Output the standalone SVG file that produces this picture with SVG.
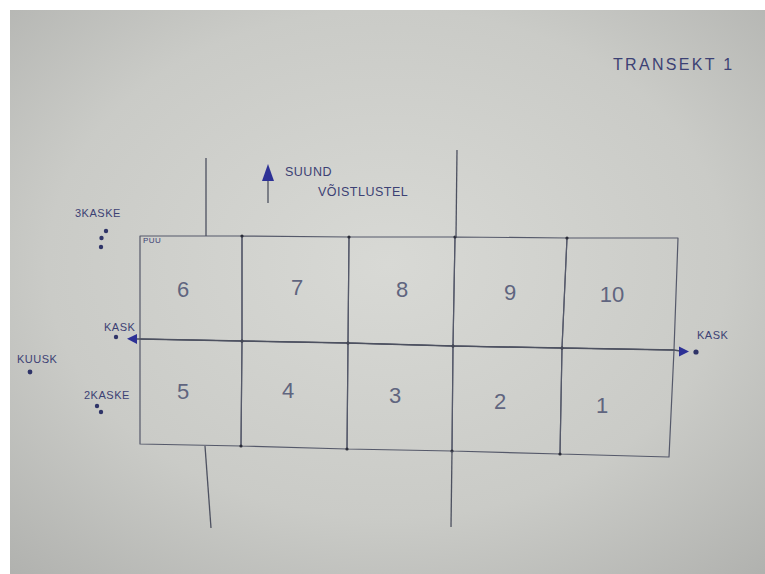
<svg xmlns="http://www.w3.org/2000/svg" width="765" height="574" viewBox="0 0 765 574">
<defs>
<radialGradient id="paper" cx="0.5" cy="0.45" r="0.75">
<stop offset="0" stop-color="#d8d9d5"/>
<stop offset="0.6" stop-color="#cacbc7"/>
<stop offset="1" stop-color="#b0b1ae"/>
</radialGradient>
</defs>
<style>
.cell{fill:none;stroke:#55596a;stroke-width:1.2;stroke-linejoin:round}
.num{font-family:"Liberation Sans",Arial,sans-serif;font-size:22px;fill:#60657f;text-anchor:middle;dominant-baseline:central}
.lbl{font-family:"Liberation Sans",Arial,sans-serif;fill:#3c4174;letter-spacing:0.5px}
.ttl{font-family:"Liberation Sans",Arial,sans-serif;fill:#3c4174;letter-spacing:2.3px;font-size:16px}
.ln{stroke:#4d5160;stroke-width:1.3;fill:none}
.dot{fill:#2f3468}
.vtx{fill:#2a2c38}
.ahead{fill:#2d3196}
</style>
<rect x="0" y="0" width="765" height="574" fill="#ffffff"/>
<rect x="10" y="10" width="755" height="564" fill="url(#paper)"/>

<g id="title"><text class="ttl" x="613" y="70">TRANSEKT 1</text></g>

<g id="direction-label">
<text class="lbl" x="285" y="176" font-size="12.5">SUUND</text>
<text class="lbl" x="318" y="196" font-size="12.5">VÕISTLUSTEL</text>
</g>

<g id="cell-6"><polygon class="cell" points="140,236 242,236 242,341 140,339"/><text class="num" x="183" y="289">6</text></g>
<g id="cell-7"><polygon class="cell" points="242,236 349,237 348,343 242,341"/><text class="num" x="297" y="287">7</text></g>
<g id="cell-8"><polygon class="cell" points="349,237 455,237 453,346 348,343"/><text class="num" x="402" y="289">8</text></g>
<g id="cell-9"><polygon class="cell" points="455,237 567,238 562,348 453,346"/><text class="num" x="510" y="292">9</text></g>
<g id="cell-10"><polygon class="cell" points="567,238 678,238 674,350 562,348"/><text class="num" x="612" y="294">10</text></g>
<g id="cell-5"><polygon class="cell" points="140,339 242,341 241,446 140,444"/><text class="num" x="183" y="391">5</text></g>
<g id="cell-4"><polygon class="cell" points="242,341 348,343 347,449 241,446"/><text class="num" x="288" y="390">4</text></g>
<g id="cell-3"><polygon class="cell" points="348,343 453,346 452,451 347,449"/><text class="num" x="395" y="395">3</text></g>
<g id="cell-2"><polygon class="cell" points="453,346 562,348 560,454 452,451"/><text class="num" x="500" y="401">2</text></g>
<g id="cell-1"><polygon class="cell" points="562,348 674,350 669,457 560,454"/><text class="num" x="602" y="405">1</text></g>

<g id="vertices">
<circle class="vtx" cx="242" cy="236" r="1.6"/><circle class="vtx" cx="349" cy="237" r="1.6"/><circle class="vtx" cx="455" cy="237" r="1.6"/><circle class="vtx" cx="567" cy="238" r="1.6"/>
<circle class="vtx" cx="242" cy="341" r="1.6"/><circle class="vtx" cx="348" cy="343" r="1.6"/><circle class="vtx" cx="453" cy="346" r="1.6"/><circle class="vtx" cx="562" cy="348" r="1.6"/>
<circle class="vtx" cx="241" cy="446" r="1.6"/><circle class="vtx" cx="347" cy="449" r="1.6"/><circle class="vtx" cx="452" cy="451" r="1.6"/><circle class="vtx" cx="560" cy="454" r="1.6"/>
</g>

<g id="puu"><text class="lbl" x="143" y="243" font-size="8">PUU</text></g>

<g id="kaske3">
<text class="lbl" x="75" y="217" font-size="11">3KASKE</text>
<circle class="dot" cx="106" cy="231" r="2.2"/><circle class="dot" cx="101.5" cy="238" r="2.2"/><circle class="dot" cx="101" cy="247" r="2.2"/>
</g>
<g id="kask-left">
<text class="lbl" x="104" y="331" font-size="11">KASK</text>
<circle class="dot" cx="116" cy="337" r="2.2"/>
</g>
<g id="kuusk">
<text class="lbl" x="17" y="363" font-size="11">KUUSK</text>
<circle class="dot" cx="30" cy="372" r="2.4"/>
</g>
<g id="kaske2">
<text class="lbl" x="84" y="399" font-size="11">2KASKE</text>
<circle class="dot" cx="97" cy="406" r="2.2"/><circle class="dot" cx="101" cy="412" r="2.2"/>
</g>
<g id="kask-right">
<text class="lbl" x="697" y="339" font-size="11">KASK</text>
<circle class="dot" cx="696" cy="352" r="2.6"/>
</g>

<g id="connectors">
<path class="ln" d="M136,339 L140,339 L242,341 L348,343 L453,346 L562,348 L674,350 L680,351"/>
<polygon class="ahead" points="689,351.5 679,346.5 679,356.5"/>
<polygon class="ahead" points="127,338.8 137,334 137,344"/>
<path class="ln" d="M268,203 L268,178"/>
<polygon class="ahead" points="268,164 274,181 262,181"/>
<path class="ln" d="M206,158 L206,236"/>
<path class="ln" d="M205,446 L211,528"/>
<path class="ln" d="M457,150 L456,237"/>
<path class="ln" d="M452,451 L451,527"/>
</g>
</svg>
